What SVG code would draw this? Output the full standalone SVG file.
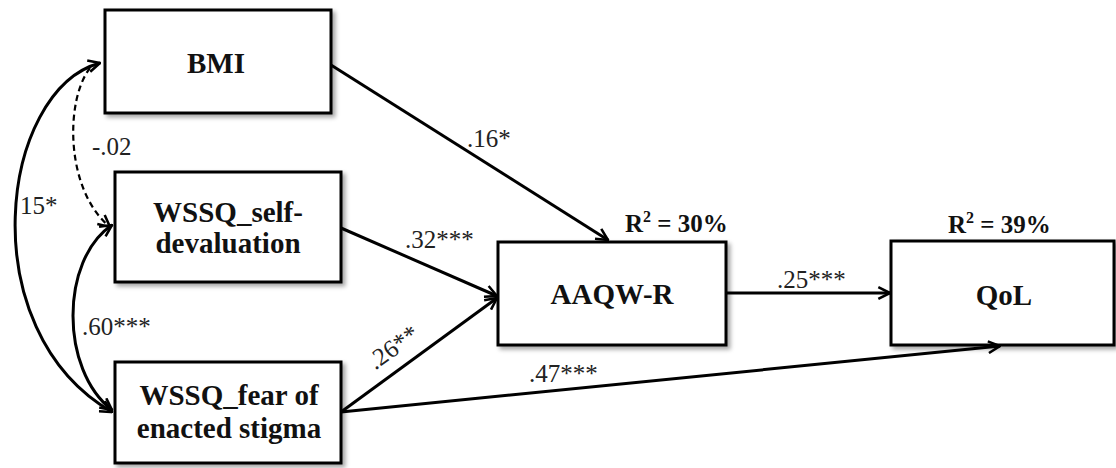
<svg xmlns="http://www.w3.org/2000/svg" width="1116" height="468" viewBox="0 0 1116 468">
<style>
.box{fill:#fff;stroke:#000;stroke-width:3;filter:url(#sh)}
.nt{font-family:"Liberation Serif","Tinos","DejaVu Serif",serif;font-weight:bold;font-size:29px;fill:#111;text-anchor:middle}
.el{font-family:"Liberation Serif","Tinos","DejaVu Serif",serif;font-size:25px;fill:#222}
.r2{font-family:"Liberation Serif","Tinos","DejaVu Serif",serif;font-weight:bold;font-size:25px;fill:#111}
.ln{fill:none;stroke:#000;stroke-width:3}
.dash{stroke-dasharray:6 4;stroke-width:2.2}
</style>
<defs>
<filter id="sh" x="-10%" y="-10%" width="130%" height="130%">
<feDropShadow dx="3" dy="3" stdDeviation="2" flood-color="#000" flood-opacity="0.35"/>
</filter>
<marker id="ah" viewBox="0 0 12 12" refX="11" refY="6" markerWidth="14" markerHeight="14" markerUnits="userSpaceOnUse" orient="auto-start-reverse">
<path d="M1,1 L11,6 L1,11" fill="none" stroke="#000" stroke-width="2.2"/>
</marker>
</defs>
<g id="BMI"><rect class="box" x="105" y="10" width="226" height="103"/><text class="nt" x="216" y="73">BMI</text></g>
<g id="WSSQ_self"><rect class="box" x="115" y="172" width="226" height="110"/><text class="nt" x="228" y="222">WSSQ_self-</text><text class="nt" x="228" y="253">devaluation</text></g>
<g id="WSSQ_fear"><rect class="box" x="115" y="362" width="226" height="101"/><text class="nt" x="229" y="405">WSSQ_fear of</text><text class="nt" x="229" y="438">enacted stigma</text></g>
<g id="AAQW-R"><rect class="box" x="498" y="242" width="228" height="103"/><text class="nt" x="612" y="304">AAQW-R</text></g>
<g id="QoL"><rect class="box" x="891" y="241" width="223" height="104"/><text class="nt" x="1004" y="305">QoL</text></g>
<g id="r2labels">
<text class="r2" x="625" y="232">R<tspan font-size="16" dy="-10">2</tspan><tspan dy="10"> = 30%</tspan></text>
<text class="r2" x="948" y="233">R<tspan font-size="16" dy="-10">2</tspan><tspan dy="10"> = 39%</tspan></text>
</g>
<g id="connectors">
<path class="ln" d="M331,65 L608,240" marker-end="url(#ah)"/>
<path class="ln" d="M341,228 L497,296" marker-end="url(#ah)"/>
<path class="ln" d="M341,412 L497,298" marker-end="url(#ah)"/>
<path class="ln" d="M726,293 L890,293" marker-end="url(#ah)"/>
<path class="ln" d="M341,412 L1000,346" marker-end="url(#ah)"/>
<path class="ln" d="M100,63 C0,90 -30,330 112,412" marker-start="url(#ah)" marker-end="url(#ah)"/>
<path class="ln dash" d="M90,68 C65,100 65,190 110,227" marker-end="url(#ah)"/>
<path class="ln" d="M112,225 C60,260 60,370 112,410" marker-start="url(#ah)" marker-end="url(#ah)"/>
<text class="el" x="467" y="147">.16*</text>
<text class="el" x="405" y="248">.32***</text>
<text class="el" x="398" y="354" text-anchor="middle" transform="rotate(-36 398 354)">.26**</text>
<text class="el" x="777" y="288">.25***</text>
<text class="el" x="529" y="382">.47***</text>
<text class="el" x="92" y="155">-.02</text>
<text class="el" x="20" y="214">15*</text>
<text class="el" x="82" y="335">.60***</text>
</g>
</svg>
